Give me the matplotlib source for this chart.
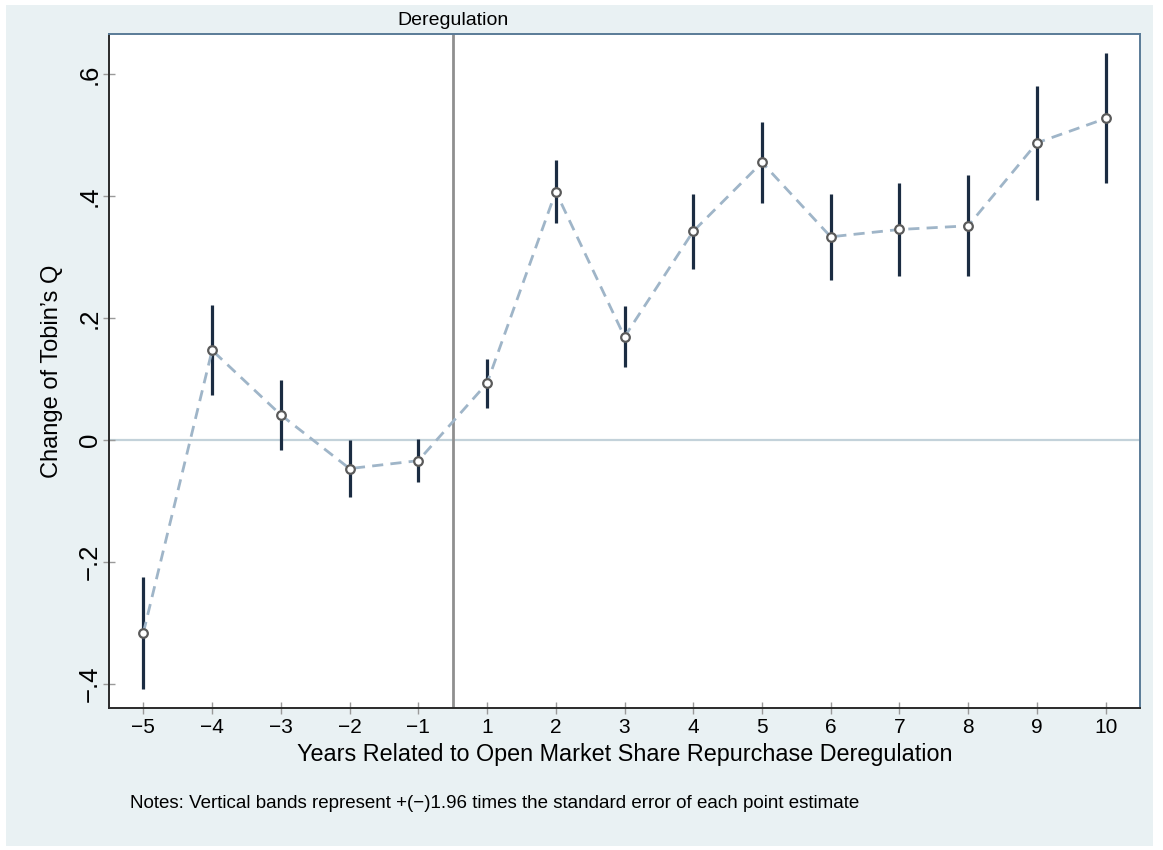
import numpy as np
import matplotlib
matplotlib.use("Agg")
import matplotlib.pyplot as plt
from matplotlib.patches import Rectangle

plt.rcParams['font.family'] = ['Liberation Sans', 'DejaVu Sans']

# ----
# DATA
# ----
years = [-5, -4, -3, -2, -1, 1, 2, 3, 4, 5, 6, 7, 8, 9, 10]
coef = [-0.316, 0.147, 0.041, -0.047, -0.034, 0.093, 0.407, 0.169,
        0.342, 0.455, 0.333, 0.345, 0.351, 0.487, 0.527]
ci_lo = [-0.408, 0.073, -0.016, -0.094, -0.069, 0.053, 0.356, 0.120,
         0.281, 0.388, 0.262, 0.269, 0.269, 0.393, 0.421]
ci_hi = [-0.224, 0.221, 0.098, 0.000, 0.001, 0.132, 0.459, 0.220,
         0.403, 0.522, 0.404, 0.422, 0.434, 0.581, 0.634]
y_ticks = [-0.4, -0.2, 0, 0.2, 0.4, 0.6]
y_tick_labels = ['\u2212.4', '\u2212.2', '0', '.2', '.4', '.6']
event_label = 'Deregulation'
x_title = 'Years Related to Open Market Share Repurchase Deregulation'
y_title = "Change of Tobin\u2019s Q"
note = 'Notes: Vertical bands represent +(\u2212)1.96 times the standard error of each point estimate'

# ------
# COLORS
# ------
bg = '#e9f1f3'
bar_col = '#1b2c42'
line_col = '#9fb5c8'
zero_col = '#c3d2da'
event_col = '#8f8f8f'
frame_col = '#5a7b97'

W, H = 1163, 850
fig = plt.figure(figsize=(W/100, H/100), dpi=100, facecolor='white')
fig.patches.append(Rectangle((6/W, 4/H), (1153-6)/W, (845-4)/H,
                             transform=fig.transFigure, facecolor=bg,
                             edgecolor='none', zorder=-10))

ax = fig.add_axes([109/W, 1 - 707.7/H, (1140-109)/W, (707.7-34.3)/H])
ax.set_facecolor('white')

pos = np.arange(len(years))

ax.axhline(0, color=zero_col, lw=1.6, zorder=1)
ax.axvline(4.5, color=event_col, lw=2.0, zorder=1)

ax.vlines(pos, ci_lo, ci_hi, color=bar_col, lw=2.3, zorder=2)
ax.plot(pos, coef, linestyle=(0, (4, 2.6)), color=line_col, lw=2.0, zorder=3)
ax.plot(pos, coef, linestyle='none', marker='o', ms=6.2, mfc='white',
        mec='#5a5a5a', mew=1.6, zorder=4)

ax.set_xlim(-0.5, 14.5)
ax.set_ylim(-0.439, 0.665)

ax.set_xticks(pos)
ax.set_xticklabels([str(y).replace('-', '\u2212') for y in years], fontsize=15)
ax.set_yticks(y_ticks)
ax.set_yticklabels(y_tick_labels, fontsize=18.5, rotation=90, va='center')
ax.tick_params(axis='both', direction='inout', length=8.5, width=1,
               color='#9a9a9a')
ax.tick_params(axis='x', pad=3)
ax.tick_params(axis='y', pad=1)

for s in ['left', 'bottom']:
    ax.spines[s].set_color('#2a2a2a')
    ax.spines[s].set_linewidth(1.4)
for s in ['top', 'right']:
    ax.spines[s].set_color(frame_col)
    ax.spines[s].set_linewidth(1.4)

fig.text(624.5/W, 1 - 755/H, x_title, ha='center', va='center', fontsize=16.8)
fig.text(52/W, 1 - 371.5/H, y_title, ha='center', va='center',
         rotation=90, fontsize=17)

ax.text(4.5, 1.0 + 14/673, event_label, transform=ax.get_xaxis_transform(),
        ha='center', va='center', fontsize=14)

fig.text(130/W, 1 - 803/H, note, ha='left', va='center', fontsize=13.5)

fig.savefig('out.png', dpi=100, facecolor='white')
